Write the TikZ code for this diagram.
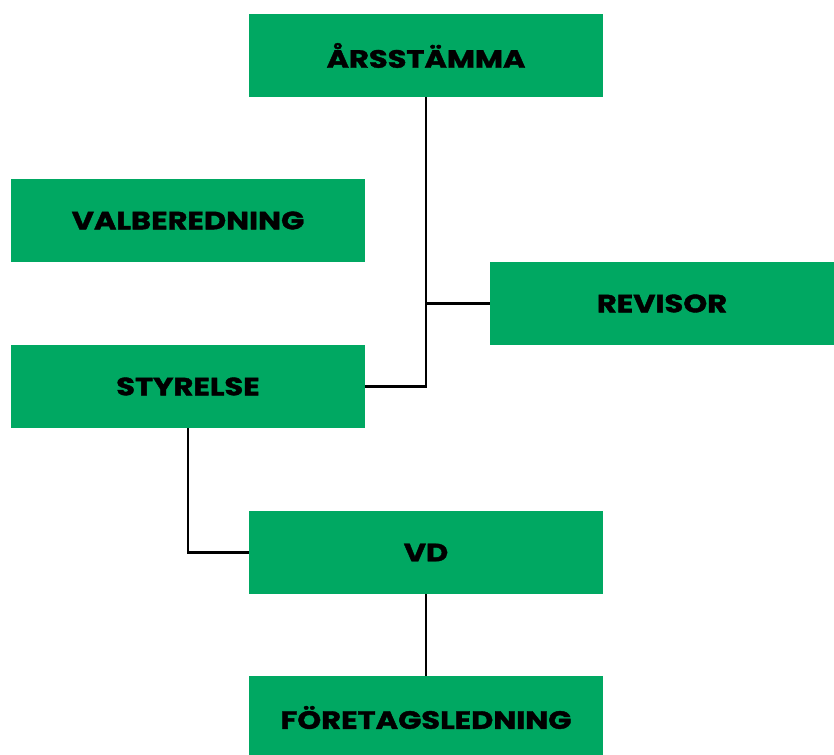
\documentclass[tikz,border=0pt]{standalone}
\usepackage{fontspec}
\setmainfont{Poppins}
\newfontfamily\orgfont[FakeStretch=1.22,BoldFeatures={FakeBold=1.6}]{Poppins}
\definecolor{orggreen}{RGB}{0,168,98}
\begin{document}
\begin{tikzpicture}[x=1pt,y=-1pt,
    orgbox/.style={rectangle, fill=orggreen, minimum width=354pt, minimum height=83pt,
      inner sep=0pt, font=\orgfont\fontsize{25}{25}\selectfont\bfseries},
    orgline/.style={line width=2.5pt}]
  \useasboundingbox (0,0) rectangle (834,754);
  \node[orgbox] (arsstamma) at (426,55.5) {ÅRSSTÄMMA};
  \node[orgbox] (valberedning) at (188,220.5) {VALBEREDNING};
  \node[orgbox, minimum width=344pt] (revisor) at (662,303.5) {REVISOR};
  \node[orgbox] (styrelse) at (188,386.5) {STYRELSE};
  \node[orgbox] (vd) at (426,552.5) {VD};
  \node[orgbox] (ledning) at (426,717.5) {FÖRETAGSLEDNING};
  \draw[orgline] (arsstamma.south) -- (arsstamma.south |- styrelse.east) -- (styrelse.east);
  \draw[orgline] (revisor.west) -- (revisor.west -| arsstamma.south);
  \draw[orgline] (styrelse.south) |- (vd.west);
  \draw[orgline] (vd.south) -- (ledning.north);
\end{tikzpicture}
\end{document}
